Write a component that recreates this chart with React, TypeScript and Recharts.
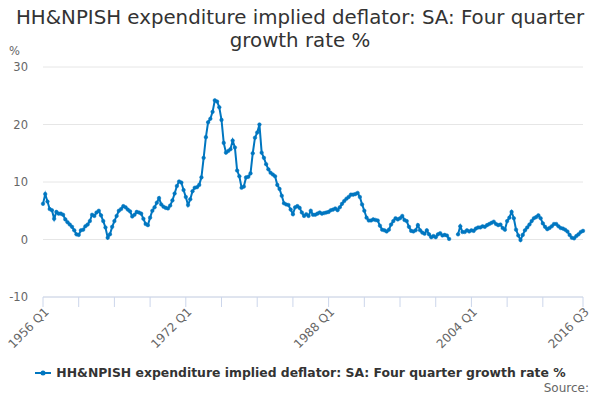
import React from "react";
import { LineChart, Line, XAxis, YAxis, CartesianGrid } from "recharts";

const SERIES_NAME = "HH&NPISH expenditure implied deflator: SA: Four quarter growth rate %";
const TITLE_LINE_1 = "HH&NPISH expenditure implied deflator: SA: Four quarter";
const TITLE_LINE_2 = "growth rate %";
const START_YEAR = 1956;

// Four quarter growth rate, 1956 Q1 .. 2016 Q3 (243 quarters)
const values: (number | null)[] = [
  // 1956-1959
  6.2, 7.9, 6.6, 5.3, 5.1, 3.6, 4.8, 4.5, 4.5, 4.3, 3.5, 3.0, 2.6, 2.2, 1.6, 0.9,
  // 1960-1963
  0.8, 1.6, 1.7, 2.3, 2.6, 3.2, 4.3, 4.1, 4.7, 5.0, 4.2, 3.2, 2.1, 0.3, 0.9, 2.2,
  // 1964-1967
  3.2, 4.1, 5.0, 5.3, 5.8, 5.6, 5.2, 4.9, 4.0, 4.3, 4.8, 4.7, 4.5, 3.6, 2.7, 2.5,
  // 1968-1971
  3.8, 5.0, 5.6, 6.4, 7.2, 6.1, 5.7, 5.5, 5.4, 5.9, 6.8, 8.0, 9.3, 10.1, 9.9, 8.6,
  // 1972-1975
  7.4, 6.0, 7.0, 8.4, 9.0, 9.1, 9.5, 10.8, 14.2, 17.8, 20.4, 21.0, 22.2, 24.2, 24.0, 23.0,
  // 1976-1979
  20.8, 16.8, 15.1, 15.4, 15.7, 17.2, 16.0, 12.0, 11.0, 9.0, 9.2, 10.8, 10.9, 11.5, 15.0, 17.7,
  // 1980-1983
  18.6, 20.0, 15.1, 14.2, 13.1, 12.2, 11.6, 11.3, 11.0, 9.5, 8.8, 7.6, 6.3, 6.1, 6.0, 5.2,
  // 1984-1987
  4.4, 5.6, 5.8, 5.5, 4.7, 4.1, 4.4, 4.1, 5.0, 4.3, 4.3, 4.5, 4.7, 4.5, 4.6, 4.7,
  // 1988-1991
  4.8, 5.1, 5.2, 5.4, 5.1, 5.6, 6.2, 6.7, 7.1, 7.4, 7.8, 7.8, 7.9, 8.1, 7.4, 6.1,
  // 1992-1995
  5.0, 3.8, 3.3, 3.3, 3.5, 3.4, 3.3, 2.4, 1.7, 1.6, 1.4, 1.7, 2.6, 3.2, 3.7, 3.5,
  // 1996-1999
  3.7, 4.1, 3.4, 3.2, 2.2, 1.5, 1.4, 1.6, 2.5, 1.6, 1.2, 1.0, 1.6, 0.9, 0.4, 0.6,
  // 2000-2003
  0.4, 0.9, 1.1, 0.7, 0.8, 0.7, 0.1, null, null, null, 0.9, 2.3, 1.3, 1.3, 1.6, 1.4,
  // 2004-2007
  1.6, 1.5, 1.9, 2.1, 2.1, 2.3, 2.2, 2.5, 2.7, 2.9, 3.1, 2.7, 2.5, 2.6, 2.0, 1.7,
  // 2008-2011
  3.2, 3.8, 4.8, 3.7, 1.7, 0.7, -0.1, 0.8, 1.6, 2.1, 2.6, 3.2, 3.7, 3.9, 4.2, 3.7,
  // 2012-2015
  2.8, 2.2, 1.8, 2.0, 2.3, 2.7, 2.7, 2.3, 2.0, 1.9, 1.7, 1.4, 0.8, 0.3, 0.2, 0.6,
  // 2016 Q1-Q3
  0.9, 1.3, 1.5,
];

const xTicks = [0, 16, 32, 48, 64, 80, 96, 112, 128, 144, 160, 176, 192, 208, 224, 242];
const labelledTicks = [0, 64, 128, 192, 242];
const yTicks = [-10, 0, 10, 20, 30];

const quarterName = (i: number) => `${START_YEAR + Math.floor(i / 4)} Q${(i % 4) + 1}`;

const data = values.map((v, i) => ({ i, q: quarterName(i), v }));

const BLUE = "#0076c0";
const FONT = "'DejaVu Sans', sans-serif";

const XTick = (props: any) => {
  const { x, y, payload } = props;
  if (!labelledTicks.includes(payload.value)) return null;
  const tx = x + 3;
  return (
    <text
      x={tx}
      y={y}
      dy={5}
      textAnchor="end"
      fill="#666666"
      fontSize={12}
      fontFamily={FONT}
      transform={`rotate(-45, ${tx}, ${y})`}
    >
      {quarterName(payload.value)}
    </text>
  );
};

export default function App() {
  return (
    <div style={{ position: "absolute", left: 0, top: 0, width: 600, height: 400, background: "#fff", fontFamily: FONT }}>
      <div
        style={{
          position: "absolute",
          left: 0,
          top: 6,
          width: 600,
          textAlign: "center",
          fontSize: 19.8,
          lineHeight: "23px",
          color: "#333333",
        }}
      >
        {TITLE_LINE_1}
        <br />
        {TITLE_LINE_2}
      </div>
      <div style={{ position: "absolute", left: 9, top: 44, fontSize: 11.5, color: "#666666" }}>%</div>
      <LineChart
        width={600}
        height={400}
        data={data}
        margin={{ top: 67, right: 17, bottom: 0, left: 0 }}
      >
        <CartesianGrid horizontal vertical={false} stroke="#e6e6e6" />
        <XAxis
          dataKey="i"
          type="number"
          domain={[0, 242]}
          ticks={xTicks}
          interval={0}
          axisLine={{ stroke: "#ccd6eb" }}
          tickLine={{ stroke: "#ccd6eb" }}
          tickSize={10}
          tick={<XTick />}
          height={103}
        />
        <YAxis
          domain={[-10, 30]}
          ticks={yTicks}
          width={43}
          axisLine={false}
          tickLine={false}
          tickSize={0}
          tickMargin={15}
          tick={{ fill: "#666666", fontSize: 11.5, fontFamily: FONT }}
        />
        <Line
          type="linear"
          dataKey="v"
          name={SERIES_NAME}
          stroke={BLUE}
          strokeWidth={2}
          dot={{ r: 1.8, fill: BLUE, stroke: BLUE, strokeWidth: 0.5 }}
          connectNulls={false}
          isAnimationActive={false}
        />
      </LineChart>
      <div
        style={{
          position: "absolute",
          left: 0,
          top: 365,
          width: 600,
          display: "flex",
          justifyContent: "center",
          alignItems: "center",
          fontSize: 12.4,
          fontWeight: "bold",
          color: "#333333",
        }}
      >
        <svg width={18} height={12} style={{ marginRight: 4 }}>
          <line x1={1} y1={6} x2={17} y2={6} stroke={BLUE} strokeWidth={2} />
          <circle cx={9} cy={6} r={2.5} fill={BLUE} />
        </svg>
        <span>{SERIES_NAME}</span>
      </div>
      <div style={{ position: "absolute", right: 11, top: 381, fontSize: 12, color: "#666666" }}>Source:</div>
    </div>
  );
}
